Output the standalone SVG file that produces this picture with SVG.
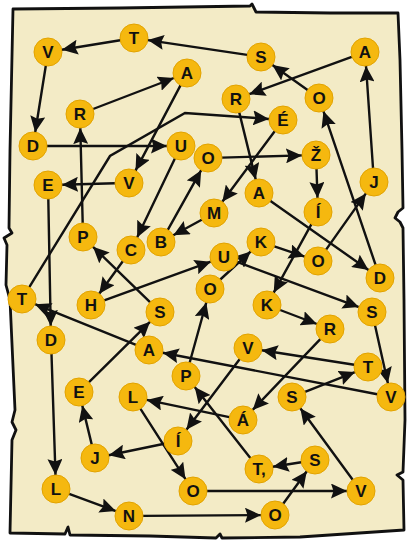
<svg xmlns="http://www.w3.org/2000/svg" width="408" height="544" viewBox="0 0 408 544">
<defs>
<style>
.paper{fill:#f3ebc6;stroke:#111;stroke-width:2.8;stroke-linejoin:round}
.c{fill:none;stroke:#111;stroke-width:2.4;stroke-linecap:round;marker-end:url(#ah)}
.n circle{fill:#f5b80f;stroke:#e2a300;stroke-width:1}
.n text{font-family:"Liberation Sans",Arial,sans-serif;font-weight:bold;font-size:17px;fill:#111;text-anchor:middle}
</style>
<marker id="ah" markerUnits="userSpaceOnUse" markerWidth="17" markerHeight="15" viewBox="0 0 17 15" refX="16" refY="7.5" orient="auto"><path d="M0,0 L16,7.5 L0,15 L2.5,7.5 z" fill="#111"/></marker>
</defs>
<rect width="408" height="544" fill="#fff"/>
<path class="paper" d="M13,9 L120,8 L250,6 L252,4 L256,12 L330,13 L398,13 L400,60 L402,150 L403,208 L398,212 L395,218 L400,222 L403,228 L404,300 L405,420 L403,472 L397,475 L403,480 L404,530 L300,537 L222,538 L220,534 L216,538 L150,536 L70,535 L68,527 L65,534 L10,533 L12,440 L16,430 L12,422 L15,410 L10,300 L6,285 L7,245 L4,238 L12,233 L9,228 L10,150 Z"/>
<g id="connectors">
<line class="c" x1="93.1" y1="109" x2="173.9" y2="78"/>
<line class="c" x1="180.5" y1="85.4" x2="135.5" y2="170.6"/>
<line class="c" x1="115" y1="183.3" x2="62" y2="184.7"/>
<line class="c" x1="48.3" y1="199" x2="50.7" y2="326"/>
<line class="c" x1="51.5" y1="354" x2="55.5" y2="475"/>
<line class="c" x1="69.1" y1="493.9" x2="115.9" y2="511.1"/>
<line class="c" x1="143" y1="515.9" x2="261" y2="515.1"/>
<line class="c" x1="283.2" y1="503.7" x2="306.8" y2="471.3"/>
<line class="c" x1="301.2" y1="462.2" x2="272.8" y2="466.8"/>
<line class="c" x1="250.3" y1="458" x2="194.7" y2="387"/>
<line class="c" x1="189.7" y1="362.5" x2="206.3" y2="302.5"/>
<line class="c" x1="220.3" y1="279.5" x2="250.7" y2="251.5"/>
<line class="c" x1="274.3" y1="246.4" x2="304.7" y2="256.6"/>
<line class="c" x1="326.1" y1="249.6" x2="365.9" y2="193.4"/>
<line class="c" x1="373" y1="168" x2="366" y2="66"/>
<line class="c" x1="351.8" y1="56.8" x2="249.2" y2="94.2"/>
<line class="c" x1="239.3" y1="112.6" x2="255.7" y2="179.4"/>
<line class="c" x1="270.5" y1="201" x2="368.5" y2="270"/>
<line class="c" x1="375.5" y1="264.7" x2="323.5" y2="111.3"/>
<line class="c" x1="307.6" y1="89.9" x2="272.4" y2="65.1"/>
<line class="c" x1="247.2" y1="54.9" x2="147.8" y2="40.1"/>
<line class="c" x1="120.2" y1="40.3" x2="61.8" y2="49.7"/>
<line class="c" x1="45.8" y1="65.8" x2="35.2" y2="132.2"/>
<line class="c" x1="47" y1="146" x2="167" y2="146"/>
<line class="c" x1="174.9" y1="158.6" x2="137.1" y2="237.4"/>
<line class="c" x1="122.8" y1="261.3" x2="99.2" y2="293.7"/>
<line class="c" x1="104.2" y1="300.3" x2="210.8" y2="261.7"/>
<line class="c" x1="237.1" y1="261.9" x2="358.9" y2="307.1"/>
<line class="c" x1="375.1" y1="325.7" x2="387.9" y2="383.3"/>
<line class="c" x1="377.3" y1="394.3" x2="162.7" y2="352.7"/>
<line class="c" x1="136" y1="344.8" x2="35" y2="304.2"/>
<polyline class="c" points="29.3,287.1 110,156 185,113 269,119"/>
<line class="c" x1="274.7" y1="131.2" x2="222.3" y2="201.8"/>
<line class="c" x1="201.7" y1="219.7" x2="173.3" y2="235.3"/>
<line class="c" x1="167.8" y1="229.8" x2="201.2" y2="170.2"/>
<line class="c" x1="222" y1="157.6" x2="302" y2="155.4"/>
<line class="c" x1="316.5" y1="169" x2="317.5" y2="198"/>
<line class="c" x1="311.3" y1="224.3" x2="273.7" y2="292.7"/>
<line class="c" x1="280.1" y1="310" x2="316.9" y2="324"/>
<line class="c" x1="320.3" y1="339.1" x2="252.7" y2="409.9"/>
<line class="c" x1="229.3" y1="417.1" x2="146.7" y2="399.9"/>
<line class="c" x1="140.5" y1="408.8" x2="185.5" y2="479.2"/>
<line class="c" x1="207" y1="491" x2="347" y2="491"/>
<line class="c" x1="352.7" y1="479.7" x2="300.3" y2="408.3"/>
<line class="c" x1="305" y1="391.9" x2="355" y2="372.1"/>
<line class="c" x1="354.2" y1="364.8" x2="261.8" y2="350.2"/>
<line class="c" x1="239.6" y1="359.2" x2="186.4" y2="429.8"/>
<line class="c" x1="164.3" y1="443.8" x2="108.7" y2="455.2"/>
<line class="c" x1="91.7" y1="444.4" x2="82.3" y2="405.6"/>
<line class="c" x1="89" y1="382.2" x2="150" y2="321.8"/>
<line class="c" x1="150" y1="302.2" x2="93" y2="246.8"/>
<line class="c" x1="82.7" y1="223" x2="80.3" y2="128"/>
</g>
<g id="n01" class="n"><circle cx="48" cy="52" r="14"/><text x="48" y="58">V</text></g>
<g id="n02" class="n"><circle cx="134" cy="38" r="14"/><text x="134" y="44">T</text></g>
<g id="n03" class="n"><circle cx="261" cy="57" r="14"/><text x="261" y="63">S</text></g>
<g id="n04" class="n"><circle cx="365" cy="52" r="14"/><text x="365" y="58">A</text></g>
<g id="n05" class="n"><circle cx="187" cy="73" r="14"/><text x="187" y="79">A</text></g>
<g id="n06" class="n"><circle cx="80" cy="114" r="14"/><text x="80" y="120">R</text></g>
<g id="n07" class="n"><circle cx="236" cy="99" r="14"/><text x="236" y="105">R</text></g>
<g id="n08" class="n"><circle cx="319" cy="98" r="14"/><text x="319" y="104">O</text></g>
<g id="n09" class="n"><circle cx="283" cy="120" r="14"/><text x="283" y="126">É</text></g>
<g id="n10" class="n"><circle cx="33" cy="146" r="14"/><text x="33" y="152">D</text></g>
<g id="n11" class="n"><circle cx="181" cy="146" r="14"/><text x="181" y="152">U</text></g>
<g id="n12" class="n"><circle cx="208" cy="158" r="14"/><text x="208" y="164">O</text></g>
<g id="n13" class="n"><circle cx="316" cy="155" r="14"/><text x="316" y="161">Ž</text></g>
<g id="n14" class="n"><circle cx="48" cy="185" r="14"/><text x="48" y="191">E</text></g>
<g id="n15" class="n"><circle cx="129" cy="183" r="14"/><text x="129" y="189">V</text></g>
<g id="n16" class="n"><circle cx="374" cy="182" r="14"/><text x="374" y="188">J</text></g>
<g id="n17" class="n"><circle cx="259" cy="193" r="14"/><text x="259" y="199">A</text></g>
<g id="n18" class="n"><circle cx="214" cy="213" r="14"/><text x="214" y="219">M</text></g>
<g id="n19" class="n"><circle cx="318" cy="212" r="14"/><text x="318" y="218">Í</text></g>
<g id="n20" class="n"><circle cx="83" cy="237" r="14"/><text x="83" y="243">P</text></g>
<g id="n21" class="n"><circle cx="131" cy="250" r="14"/><text x="131" y="256">C</text></g>
<g id="n22" class="n"><circle cx="161" cy="242" r="14"/><text x="161" y="248">B</text></g>
<g id="n23" class="n"><circle cx="261" cy="242" r="14"/><text x="261" y="248">K</text></g>
<g id="n24" class="n"><circle cx="224" cy="257" r="14"/><text x="224" y="263">U</text></g>
<g id="n25" class="n"><circle cx="318" cy="261" r="14"/><text x="318" y="267">O</text></g>
<g id="n26" class="n"><circle cx="380" cy="278" r="14"/><text x="380" y="284">D</text></g>
<g id="n27" class="n"><circle cx="22" cy="299" r="14"/><text x="22" y="305">T</text></g>
<g id="n28" class="n"><circle cx="91" cy="305" r="14"/><text x="91" y="311">H</text></g>
<g id="n29" class="n"><circle cx="210" cy="289" r="14"/><text x="210" y="295">O</text></g>
<g id="n30" class="n"><circle cx="160" cy="312" r="14"/><text x="160" y="318">S</text></g>
<g id="n31" class="n"><circle cx="267" cy="305" r="14"/><text x="267" y="311">K</text></g>
<g id="n32" class="n"><circle cx="372" cy="312" r="14"/><text x="372" y="318">S</text></g>
<g id="n33" class="n"><circle cx="330" cy="329" r="14"/><text x="330" y="335">R</text></g>
<g id="n34" class="n"><circle cx="51" cy="340" r="14"/><text x="51" y="346">D</text></g>
<g id="n35" class="n"><circle cx="149" cy="350" r="14"/><text x="149" y="356">A</text></g>
<g id="n36" class="n"><circle cx="248" cy="348" r="14"/><text x="248" y="354">V</text></g>
<g id="n37" class="n"><circle cx="368" cy="367" r="14"/><text x="368" y="373">T</text></g>
<g id="n38" class="n"><circle cx="186" cy="376" r="14"/><text x="186" y="382">P</text></g>
<g id="n39" class="n"><circle cx="79" cy="392" r="14"/><text x="79" y="398">E</text></g>
<g id="n40" class="n"><circle cx="133" cy="397" r="14"/><text x="133" y="403">L</text></g>
<g id="n41" class="n"><circle cx="292" cy="397" r="14"/><text x="292" y="403">S</text></g>
<g id="n42" class="n"><circle cx="391" cy="397" r="14"/><text x="391" y="403">V</text></g>
<g id="n43" class="n"><circle cx="243" cy="420" r="14"/><text x="243" y="426">Á</text></g>
<g id="n44" class="n"><circle cx="178" cy="441" r="14"/><text x="178" y="447">Í</text></g>
<g id="n45" class="n"><circle cx="95" cy="458" r="14"/><text x="95" y="464">J</text></g>
<g id="n46" class="n"><circle cx="259" cy="469" r="14"/><text x="259" y="475">T,</text></g>
<g id="n47" class="n"><circle cx="315" cy="460" r="14"/><text x="315" y="466">S</text></g>
<g id="n48" class="n"><circle cx="56" cy="489" r="14"/><text x="56" y="495">L</text></g>
<g id="n49" class="n"><circle cx="193" cy="491" r="14"/><text x="193" y="497">O</text></g>
<g id="n50" class="n"><circle cx="361" cy="491" r="14"/><text x="361" y="497">V</text></g>
<g id="n51" class="n"><circle cx="129" cy="516" r="14"/><text x="129" y="522">N</text></g>
<g id="n52" class="n"><circle cx="275" cy="515" r="14"/><text x="275" y="521">O</text></g>
</svg>
